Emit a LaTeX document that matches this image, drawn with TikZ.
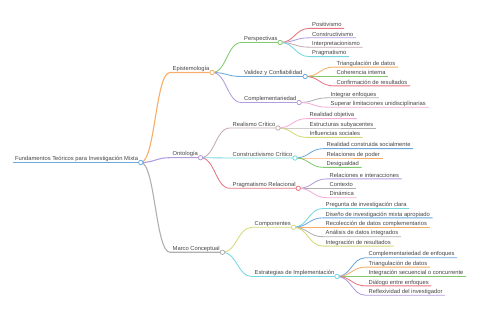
\documentclass[tikz,border=0pt]{standalone}
\usepackage{fontspec}
\setmainfont{Liberation Sans}
\definecolor{ink}{HTML}{444444}
\definecolor{cblue}{HTML}{6DA8DE}
\definecolor{corange}{HTML}{F8AE66}
\definecolor{cgreen}{HTML}{80CA6E}
\definecolor{cred}{HTML}{E8747F}
\definecolor{cpurple}{HTML}{B29DDD}
\definecolor{cbrown}{HTML}{C4AAB0}
\definecolor{cpink}{HTML}{F2ADD8}
\definecolor{cgray}{HTML}{B0B0B0}
\definecolor{colive}{HTML}{D4D878}
\definecolor{ccyan}{HTML}{74D8E0}

\begin{document}
\begin{tikzpicture}[x=1pt, y=-1pt,
    txt/.style={anchor=south west, inner xsep=2.5pt, inner ysep=0pt, text height=4.2pt, text depth=1.5pt, font=\fontsize{5.8}{7}\selectfont, text=ink},
    lnk/.style={line width=0.85pt, draw=#1},
    dot/.style={circle, draw=#1, fill=white, line width=0.8pt, inner sep=0pt, minimum size=4.4pt}]
  \useasboundingbox (0,0) rectangle (480,320);
  % root and first level
  \node[txt] (root) at (12.5,162.5) {Fundamentos Teóricos para Investigación Mixta};
  \node[txt] (epi) at (170,72.5) {Epistemología};
  \node[txt] (onto) at (170,157.7) {Ontología};
  \node[txt] (marco) at (170,252.3) {Marco Conceptual};
  % second level
  \node[txt] (persp) at (241.5,42.5) {Perspectivas};
  \node[txt] (valid) at (241.5,76.5) {Validez y Confiabilidad};
  \node[txt] (compl) at (241.5,102.5) {Complementariedad};
  \node[txt] (realc) at (230,128) {Realismo Crítico};
  \node[txt] (constc) at (230,158) {Constructivismo Crítico};
  \node[txt] (pragr) at (230,188.3) {Pragmatismo Relacional};
  \node[txt] (comp) at (252,227.3) {Componentes};
  \node[txt] (estr) at (252,276.5) {Estrategias de Implementación};
  % leaves
  \node[txt] (posit) at (309.5,28.4) {Positivismo};
  \node[txt] (constr) at (309.5,37.8) {Constructivismo};
  \node[txt] (interp) at (309.5,47.2) {Interpretacionismo};
  \node[txt] (pragm) at (309.5,56.6) {Pragmatismo};
  \node[txt] (triang) at (334,67.1) {Triangulación de datos};
  \node[txt] (coher) at (334,76.5) {Coherencia interna};
  \node[txt] (confir) at (334,85.9) {Confirmación de resultados};
  \node[txt] (integ) at (328,97.8) {Integrar enfoques};
  \node[txt] (super) at (328,107.2) {Superar limitaciones unidisciplinarias};
  \node[txt] (realo) at (307,118.6) {Realidad objetiva};
  \node[txt] (estru) at (307,128) {Estructuras subyacentes};
  \node[txt] (influ) at (307,137.4) {Influencias sociales};
  \node[txt] (reals) at (324,148.6) {Realidad construida socialmente};
  \node[txt] (relpo) at (324,158) {Relaciones de poder};
  \node[txt] (desig) at (324,167.4) {Desigualdad};
  \node[txt] (relin) at (327,178.9) {Relaciones e interacciones};
  \node[txt] (conte) at (327,188.3) {Contexto};
  \node[txt] (dinam) at (327,197.7) {Dinámica};
  \node[txt] (pregu) at (323,208.5) {Pregunta de investigación clara};
  \node[txt] (disen) at (323,217.9) {Diseño de investigación mixta apropiado};
  \node[txt] (recol) at (323,227.3) {Recolección de datos complementarios};
  \node[txt] (anali) at (323,236.7) {Análisis de datos integrados};
  \node[txt] (intres) at (323,246.1) {Integración de resultados};
  \node[txt] (compe) at (366,257.7) {Complementariedad de enfoques};
  \node[txt] (triad) at (366,267.1) {Triangulación de datos};
  \node[txt] (intsec) at (366,276.5) {Integración secuencial o concurrente};
  \node[txt] (dialo) at (366,285.9) {Diálogo entre enfoques};
  \node[txt] (refle) at (366,295.3) {Reflexividad del investigador};
  % links
  \draw[lnk=cblue, line width=1.3pt] (root.south west) -- (root.south east);
  \draw[lnk=corange, line width=1.1pt] (root.south east) .. controls +(14.5,0) and +(-14.5,0) .. (epi.south west) -- (epi.south east);
  \draw[lnk=cpurple, line width=1.1pt] (root.south east) .. controls +(14.5,0) and +(-14.5,0) .. (onto.south west) -- (onto.south east);
  \draw[lnk=cgray, line width=1.1pt] (root.south east) .. controls +(14.5,0) and +(-14.5,0) .. (marco.south west) -- (marco.south east);
  \draw[lnk=cgreen] (epi.south east) .. controls +(14.5,0) and +(-14.5,0) .. (persp.south west) -- (persp.south east);
  \draw[lnk=cblue] (epi.south east) .. controls +(14.5,0) and +(-14.5,0) .. (valid.south west) -- (valid.south east);
  \draw[lnk=cpurple] (epi.south east) .. controls +(14.5,0) and +(-14.5,0) .. (compl.south west) -- (compl.south east);
  \draw[lnk=cbrown] (onto.south east) .. controls +(14.5,0) and +(-14.5,0) .. (realc.south west) -- (realc.south east);
  \draw[lnk=ccyan] (onto.south east) .. controls +(14.5,0) and +(-14.5,0) .. (constc.south west) -- (constc.south east);
  \draw[lnk=cred] (onto.south east) .. controls +(14.5,0) and +(-14.5,0) .. (pragr.south west) -- (pragr.south east);
  \draw[lnk=colive] (marco.south east) .. controls +(14.5,0) and +(-14.5,0) .. (comp.south west) -- (comp.south east);
  \draw[lnk=ccyan] (marco.south east) .. controls +(14.5,0) and +(-14.5,0) .. (estr.south west) -- (estr.south east);
  \draw[lnk=cred] (persp.south east) .. controls +(14.5,0) and +(-14.5,0) .. (posit.south west) -- (posit.south east);
  \draw[lnk=cpurple] (persp.south east) .. controls +(14.5,0) and +(-14.5,0) .. (constr.south west) -- (constr.south east);
  \draw[lnk=cbrown] (persp.south east) .. controls +(14.5,0) and +(-14.5,0) .. (interp.south west) -- (interp.south east);
  \draw[lnk=ccyan] (persp.south east) .. controls +(14.5,0) and +(-14.5,0) .. (pragm.south west) -- (pragm.south east);
  \draw[lnk=corange] (valid.south east) .. controls +(14.5,0) and +(-14.5,0) .. (triang.south west) -- (triang.south east);
  \draw[lnk=cgreen] (valid.south east) .. controls +(14.5,0) and +(-14.5,0) .. (coher.south west) -- (coher.south east);
  \draw[lnk=cred] (valid.south east) .. controls +(14.5,0) and +(-14.5,0) .. (confir.south west) -- (confir.south east);
  \draw[lnk=cgray] (compl.south east) .. controls +(14.5,0) and +(-14.5,0) .. (integ.south west) -- (integ.south east);
  \draw[lnk=cpink] (compl.south east) .. controls +(14.5,0) and +(-14.5,0) .. (super.south west) -- (super.south east);
  \draw[lnk=cpink] (realc.south east) .. controls +(14.5,0) and +(-14.5,0) .. (realo.south west) -- (realo.south east);
  \draw[lnk=cgray] (realc.south east) .. controls +(14.5,0) and +(-14.5,0) .. (estru.south west) -- (estru.south east);
  \draw[lnk=colive] (realc.south east) .. controls +(14.5,0) and +(-14.5,0) .. (influ.south west) -- (influ.south east);
  \draw[lnk=cblue] (constc.south east) .. controls +(14.5,0) and +(-14.5,0) .. (reals.south west) -- (reals.south east);
  \draw[lnk=corange] (constc.south east) .. controls +(14.5,0) and +(-14.5,0) .. (relpo.south west) -- (relpo.south east);
  \draw[lnk=cgreen] (constc.south east) .. controls +(14.5,0) and +(-14.5,0) .. (desig.south west) -- (desig.south east);
  \draw[lnk=cpurple] (pragr.south east) .. controls +(14.5,0) and +(-14.5,0) .. (relin.south west) -- (relin.south east);
  \draw[lnk=cgray] (pragr.south east) .. controls +(14.5,0) and +(-14.5,0) .. (conte.south west) -- (conte.south east);
  \draw[lnk=cpink] (pragr.south east) .. controls +(14.5,0) and +(-14.5,0) .. (dinam.south west) -- (dinam.south east);
  \draw[lnk=ccyan] (comp.south east) .. controls +(14.5,0) and +(-14.5,0) .. (pregu.south west) -- (pregu.south east);
  \draw[lnk=cblue] (comp.south east) .. controls +(14.5,0) and +(-14.5,0) .. (disen.south west) -- (disen.south east);
  \draw[lnk=corange] (comp.south east) .. controls +(14.5,0) and +(-14.5,0) .. (recol.south west) -- (recol.south east);
  \draw[lnk=cgray] (comp.south east) .. controls +(14.5,0) and +(-14.5,0) .. (anali.south west) -- (anali.south east);
  \draw[lnk=colive] (comp.south east) .. controls +(14.5,0) and +(-14.5,0) .. (intres.south west) -- (intres.south east);
  \draw[lnk=cblue] (estr.south east) .. controls +(14.5,0) and +(-14.5,0) .. (compe.south west) -- (compe.south east);
  \draw[lnk=corange] (estr.south east) .. controls +(14.5,0) and +(-14.5,0) .. (triad.south west) -- (triad.south east);
  \draw[lnk=cgreen] (estr.south east) .. controls +(14.5,0) and +(-14.5,0) .. (intsec.south west) -- (intsec.south east);
  \draw[lnk=cred] (estr.south east) .. controls +(14.5,0) and +(-14.5,0) .. (dialo.south west) -- (dialo.south east);
  \draw[lnk=cpurple] (estr.south east) .. controls +(14.5,0) and +(-14.5,0) .. (refle.south west) -- (refle.south east);
  % fold circles
  \node[dot=cblue] (rootD) at (root.south east) {};
  \node[dot=corange] (epiD) at (epi.south east) {};
  \node[dot=cpurple] (ontoD) at (onto.south east) {};
  \node[dot=cgray] (marcoD) at (marco.south east) {};
  \node[dot=cgreen] (perspD) at (persp.south east) {};
  \node[dot=cblue] (validD) at (valid.south east) {};
  \node[dot=cpurple] (complD) at (compl.south east) {};
  \node[dot=cbrown] (realcD) at (realc.south east) {};
  \node[dot=ccyan] (constcD) at (constc.south east) {};
  \node[dot=cred] (pragrD) at (pragr.south east) {};
  \node[dot=colive] (compD) at (comp.south east) {};
  \node[dot=ccyan] (estrD) at (estr.south east) {};
\end{tikzpicture}
\end{document}
